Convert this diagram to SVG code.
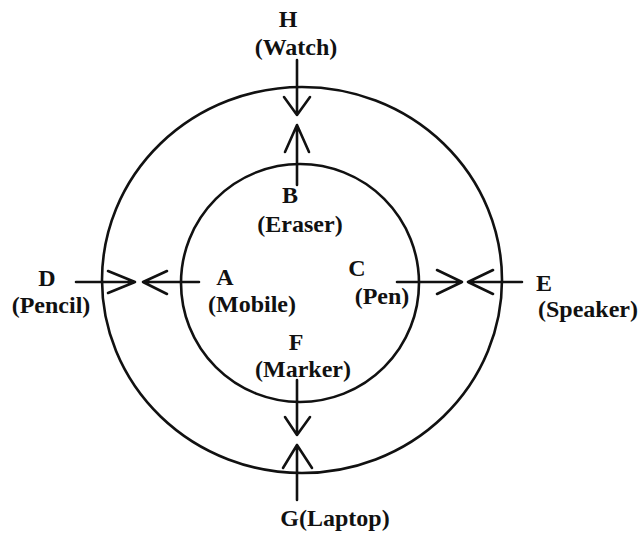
<svg xmlns="http://www.w3.org/2000/svg" width="644" height="536" viewBox="0 0 644 536">
<style>
.ring{fill:none;stroke:#111;stroke-width:2.6}
.ln{fill:none;stroke:#111;stroke-width:2.6;stroke-linecap:round;stroke-linejoin:round}
text{font-family:"Liberation Serif","Times New Roman",serif;font-weight:bold;font-size:24px;fill:#111;text-anchor:middle}
</style>
<rect width="644" height="536" fill="#fff"/>
<g id="outer-circle"><ellipse class="ring" cx="302" cy="280" rx="200" ry="193"/></g>
<g id="inner-circle"><circle class="ring" cx="300" cy="283" r="119"/></g>
<g id="node-H"><text x="288" y="27">H</text><text x="296" y="55">(Watch)</text></g>
<g id="node-B"><text x="290" y="203">B</text><text x="300" y="232">(Eraser)</text></g>
<g id="node-D"><text x="47" y="286">D</text><text x="51" y="313">(Pencil)</text></g>
<g id="node-A"><text x="225" y="285">A</text><text x="252" y="312">(Mobile)</text></g>
<g id="node-C"><text x="357" y="276">C</text><text x="382" y="304">(Pen)</text></g>
<g id="node-E"><text x="544" y="291">E</text><text x="588" y="317">(Speaker)</text></g>
<g id="node-F"><text x="296" y="350">F</text><text x="303" y="377">(Marker)</text></g>
<g id="node-G"><text x="335" y="526">G(Laptop)</text></g>
<g id="connectors">
<path class="ln" d="M297 60V115M284 97L297 115L310 97"/>
<path class="ln" d="M297 185V125M285 152L297 125L309 152"/>
<path class="ln" d="M76 282H135M108 271L135 282L108 293"/>
<path class="ln" d="M199 282H143M167 271L143 282L167 294"/>
<path class="ln" d="M397 282H462M437 270L462 282L437 294"/>
<path class="ln" d="M522 282H468M493 270L468 282L493 294"/>
<path class="ln" d="M297 380V435M285 417L297 435L310 417"/>
<path class="ln" d="M297 500V445M283 468L297 445L312 468"/>
</g>
</svg>
